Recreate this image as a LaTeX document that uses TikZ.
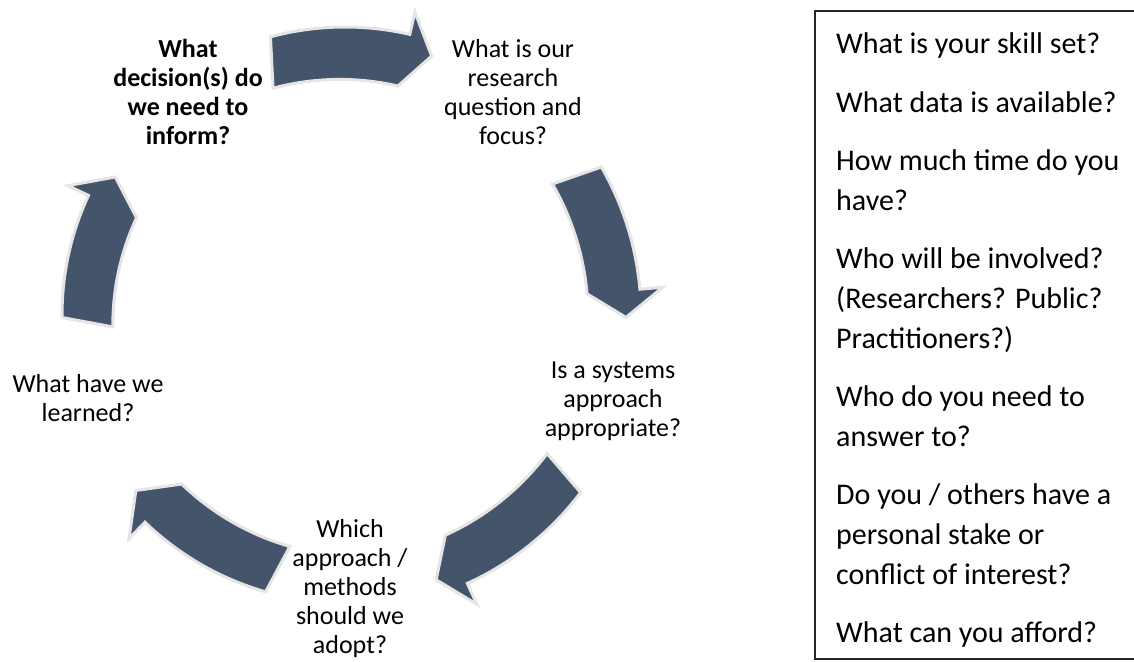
\documentclass[tikz,border=0pt]{standalone}
\usepackage{fontspec}
\setmainfont{Carlito}
\usetikzlibrary{calc}
\definecolor{slate}{HTML}{44546A}
\tikzset{
  arrowshape/.style={fill=slate, draw=black!10, line width=3pt, line join=miter},
  steptext/.style={align=center, font=\fontsize{26}{29}\selectfont, inner sep=0pt},
  boxtext/.style={anchor=base west, font=\fontsize{30}{37}\selectfont, inner sep=0pt},
}
% start angle, head base angle, tip angle, radius (around hub)
\newcommand\cyclearrow[4]{%
  \filldraw[arrowshape] ($(hub)+(#1:#4+15)$) arc[start angle=#1, end angle=#2, radius=#4+15]
    -- ($(hub)+(#2:#4+38)$) -- ($(hub)+(#3:#4)$) -- ($(hub)+(#2:#4-38)$)
    arc[start angle=#2, end angle=#1, radius=#4-15] -- cycle;}
\begin{document}
\begin{tikzpicture}[x=1pt,y=-1pt]
\useasboundingbox (0,0) rectangle (1134,661);
\coordinate (hub) at (345,315);
% the cycle
\cyclearrow{-105}{-77}{-71.5}{273}
\cyclearrow{-30}{-5}{0.5}{281}
\cyclearrow{37}{65.5}{71}{280}
\cyclearrow{106}{134}{140}{273}
\cyclearrow{179.5}{205}{211}{268}
\node[steptext] (decide) at (188,92) {\textbf{What}\\\textbf{decision(s) do}\\\textbf{we need to}\\\textbf{inform?}};
\node[steptext] (question) at (513,92) {What is our\\research\\question and\\focus?};
\node[steptext] (systems) at (613,401) {Is a systems\\approach\\appropriate?};
\node[steptext] (methods) at (350,589) {Which\\approach /\\methods\\should we\\adopt?};
\node[steptext] (learned) at (88,398) {What have we\\learned?};
% the checklist
\draw[line width=1.2pt, black!85] (815,11) rectangle (1140,659);
\node[boxtext] (q1) at (836,54) {What is your skill set?};
\node[boxtext] (q2) at (836,112) {What data is available?};
\node[boxtext] (q3a) at (836,170) {How much time do you};
\node[boxtext] (q3b) at (836,210) {have?};
\node[boxtext] (q4a) at (836,268) {Who will be involved?};
\node[boxtext] (q4b) at (836,308) {(Researchers? Public?};
\node[boxtext] (q4c) at (836,348) {Practitioners?)};
\node[boxtext] (q5a) at (836,406) {Who do you need to};
\node[boxtext] (q5b) at (836,446) {answer to?};
\node[boxtext] (q6a) at (836,504) {Do you / others have a};
\node[boxtext] (q6b) at (836,544) {personal stake or};
\node[boxtext] (q6c) at (836,584) {conflict of interest?};
\node[boxtext] (q7) at (836,642) {What can you afford?};
\end{tikzpicture}
\end{document}
